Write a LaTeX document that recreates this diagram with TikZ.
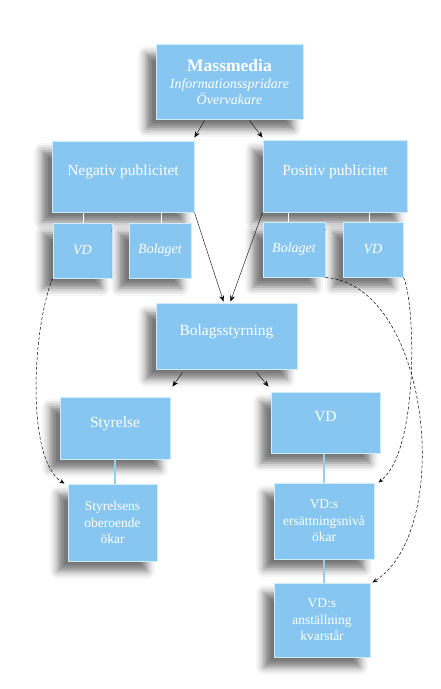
\documentclass[tikz,border=0pt]{standalone}
\usepackage{fontspec}
\setmainfont{Liberation Serif}
\usetikzlibrary{shadows.blur,arrows.meta}
\definecolor{boxblue}{RGB}{135,198,240}
\definecolor{boxedge}{RGB}{205,238,252}
\definecolor{linkblue}{RGB}{150,205,240}
\begin{document}
\begin{tikzpicture}[x=1pt, y=-1pt,
  box/.style={rectangle, fill=boxblue, draw=boxedge, line width=1pt, text=white, inner sep=0pt, align=center,
    blur shadow={shadow xshift=-10pt, shadow yshift=-10pt, shadow blur radius=8pt, shadow opacity=55}},
  big/.style={box, font=\fontsize{15.5}{18}\selectfont, text depth=12pt},
  small/.style={box, font=\fontsize{14}{16}\selectfont\itshape},
  leaf/.style={box, font=\fontsize{13.5}{16.5}\selectfont},
  arr/.style={-{Stealth[length=6pt,width=5pt]}, thin, draw=black},
  curve/.style={-{Stealth[length=5pt,width=4pt]}, densely dashed, line width=0.5pt, draw=black},
  stem/.style={draw=white, thin},
  link/.style={draw=linkblue, line width=2pt}]
\useasboundingbox (0,0) rectangle (440,689);
\node[box, minimum width=147pt, minimum height=75pt, font=\fontsize{14}{16}\selectfont] (mass) at (229.5,81.5)
  {{\fontsize{17.5}{20}\selectfont\bfseries Massmedia}\\[1pt]{\itshape Informationsspridare}\\{\itshape Övervakare}};
\node[big, minimum width=142pt, minimum height=71pt] (neg) at (123,176.5) {Negativ publicitet};
\node[big, minimum width=144pt, minimum height=72pt] (pos) at (335,176) {Positiv publicitet};
\node[small, minimum width=59pt, minimum height=55pt] (negvd) at (82.5,250.5) {VD};
\node[small, minimum width=62pt, minimum height=55pt] (negbol) at (160,250.5) {Bolaget};
\node[small, minimum width=62pt, minimum height=55pt] (posbol) at (294,249.5) {Bolaget};
\node[small, minimum width=60pt, minimum height=55pt] (posvd) at (373,249.5) {VD};
\node[big, minimum width=141pt, minimum height=66pt] (bolag) at (226.5,336) {Bolagsstyrning};
\node[big, minimum width=110pt, minimum height=62pt] (styr) at (115,428) {Styrelse};
\node[big, minimum width=109pt, minimum height=61pt] (vd) at (325.5,422.5) {VD};
\node[leaf, minimum width=89pt, minimum height=77pt] (ober) at (112.5,522.5) {Styrelsens\\oberoende\\ökar};
\node[leaf, minimum width=100pt, minimum height=76pt] (ers) at (324,521) {VD:s\\ersättningsnivå\\ökar};
\node[leaf, minimum width=96pt, minimum height=74pt] (anst) at (322,620) {VD:s\\anställning\\kvarstår};
% stems
\draw [stem] ([xshift=1pt]negvd.north |- neg.south) -- ([xshift=1pt]negvd.north);
\draw [stem] ([xshift=1pt]negbol.north |- neg.south) -- ([xshift=1pt]negbol.north);
\draw [stem] ([xshift=-6pt]posbol.north |- pos.south) -- ([xshift=-6pt]posbol.north);
\draw [stem] ([xshift=-4pt]posvd.north |- pos.south) -- ([xshift=-4pt]posvd.north);
\draw [link] (styr.south) -- (styr.south |- ober.north);
\draw [link] ([xshift=-2pt]vd.south) -- ([xshift=-2pt]vd.south |- ers.north);
\draw [link] (ers.south) -- (ers.south |- anst.north);
% arrows
\draw [arr] ([shift={(-25pt,-1pt)}]mass.south) -- ([yshift=3pt]neg.north east);
\draw [arr] ([shift={(20pt,-1pt)}]mass.south) -- ([yshift=2pt]pos.north west);
\draw [arr] (neg.south east) -- ([shift={(-3pt,1pt)}]bolag.north);
\draw [arr] (pos.south west) -- ([shift={(4pt,1pt)}]bolag.north);
\draw [arr] ([shift={(-44pt,-3pt)}]bolag.south) -- ([shift={(2pt,10pt)}]styr.north east);
\draw [arr] ([shift={(30pt,-3pt)}]bolag.south) -- ([shift={(-2pt,5pt)}]vd.north west);
% dashed links
\draw [curve] (negvd.south west) .. controls (32,330) and (26,460) .. ([xshift=-3pt]ober.north west);
\draw [curve] (posbol.south east) .. controls (430,285) and (455,530) .. ([xshift=2pt]anst.north east);
\draw [curve] (posvd.south east) .. controls (415,300) and (420,450) .. ([xshift=4pt]ers.north east);
\end{tikzpicture}
\end{document}
